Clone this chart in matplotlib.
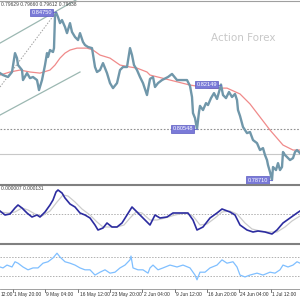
import matplotlib
matplotlib.use("Agg")
import matplotlib.pyplot as plt
from matplotlib.lines import Line2D

# price panel (bar index, close)
price_bar = [0, 3, 8, 12, 15, 17, 18, 22, 23, 27, 30, 33, 37, 39, 42, 45, 47, 48, 50, 53,
             54, 55, 56, 58, 60, 62, 65, 67, 70, 72, 75, 78, 80, 83, 85, 88, 92, 95, 97, 100,
             103, 107, 110, 113, 117, 120, 123, 127, 130, 132, 134, 137, 140, 143, 147, 150, 153, 155, 158, 162,
             168, 172, 177, 183, 187, 190, 192, 193, 195, 197, 199, 200, 203, 206, 208, 211, 214, 217, 219, 221,
             223, 226, 229, 232, 235, 237, 238, 240, 243, 245, 247, 250, 253, 257, 260, 263, 265, 267, 268, 270,
             272, 273, 276, 278, 280, 282, 283, 285, 287, 290, 293, 295, 297, 300]
price_close = [0.8256, 0.8249, 0.8242, 0.8260, 0.8328, 0.8310, 0.8285, 0.8267, 0.8231, 0.8256,
               0.8238, 0.8242, 0.8231, 0.8195, 0.8231, 0.8285, 0.8328, 0.8314, 0.8339, 0.8332,
               0.8346, 0.8462, 0.8475, 0.8458, 0.8436, 0.8447, 0.8422, 0.8400, 0.8436, 0.8404,
               0.8386, 0.8375, 0.8400, 0.8368, 0.8357, 0.8350, 0.8346, 0.8278, 0.8260, 0.8267,
               0.8292, 0.8256, 0.8220, 0.8202, 0.8220, 0.8267, 0.8278, 0.8278, 0.8346, 0.8321,
               0.8285, 0.8267, 0.8242, 0.8220, 0.8177, 0.8235, 0.8242, 0.8206, 0.8220, 0.8231,
               0.8242, 0.8253, 0.8231, 0.8231, 0.8231, 0.8210, 0.8170, 0.8112, 0.8094, 0.80548,
               0.8116, 0.8138, 0.8123, 0.8148, 0.8141, 0.8166, 0.8184, 0.8163, 0.8188, 0.82149,
               0.8177, 0.8166, 0.8188, 0.8170, 0.8181, 0.8159, 0.8123, 0.8102, 0.8062, 0.8051,
               0.8040, 0.8044, 0.8015, 0.8004, 0.7979, 0.7986, 0.7961, 0.7943, 0.7925, 0.7900,
               0.78710, 0.7918, 0.7907, 0.7932, 0.7907, 0.7918, 0.7972, 0.7961, 0.7954, 0.7943,
               0.7950, 0.7972, 0.7979, 0.7968]

ma_bar = [0, 10, 20, 30, 40, 50, 55, 60, 65, 70, 77, 87, 93, 100, 110, 120, 130, 137, 147, 150,
          170, 190, 210, 227, 240, 250, 260, 270, 283, 293, 300]
ma_value = [0.8249, 0.8260, 0.8267, 0.8260, 0.8256, 0.8267, 0.8285, 0.8310, 0.8328, 0.8339,
            0.8346, 0.8346, 0.8339, 0.8321, 0.8310, 0.8285, 0.8278, 0.8274, 0.8260, 0.8249,
            0.8231, 0.8213, 0.8202, 0.8202, 0.8181, 0.8145, 0.8098, 0.8051, 0.7997, 0.7979, 0.7979]

channel_upper = ([0, 90], [0.8364, 0.8548])
channel_lower = ([0, 80], [0.8105, 0.8260])
swing_line = ([0, 56], [0.8206, 0.8475])

level_bars = [56, 221, 197, 272]
level_values = [0.84750, 0.82149, 0.80548, 0.78710]
level_labels = ["0.84750", "0.82149", "0.80548", "0.78710"]
support_level = 0.80548
bid_level = 0.79638

# oscillator 1 (MACD style)
osc_bar = [0, 5, 10, 15, 18, 22, 27, 32, 37, 40, 45, 50, 53, 56, 58, 62, 65, 70, 75, 80,
           85, 90, 95, 98, 103, 107, 112, 117, 122, 127, 132, 137, 143, 148, 150, 155, 160, 167, 173, 180,
           188, 193, 197, 203, 210, 217, 222, 230, 235, 240, 247, 253, 258, 265, 272, 277, 283, 290, 297, 300]
osc_main = [0.0003, -0.0001, 0.0000, 0.0006, 0.0009, 0.0006, 0.0001, -0.0003, -0.0001, -0.0003,
            0.0002, 0.0009, 0.0014, 0.0022, 0.0024, 0.0021, 0.0016, 0.0010, 0.0007, 0.0001,
            -0.0001, -0.0004, -0.0011, -0.0016, -0.0014, -0.0009, -0.0013, -0.0013, -0.0009, -0.0001,
            0.0007, 0.0002, -0.0004, -0.0009, -0.0011, -0.0001, -0.0004, -0.0003, 0.0001, 0.0001,
            0.0001, -0.0006, -0.0016, -0.0013, -0.0004, 0.0001, 0.0005, 0.0002, -0.0001, -0.0011,
            -0.0016, -0.0018, -0.0017, -0.0018, -0.0020, -0.0016, -0.0009, -0.0004, 0.0001, 0.0003]
sig_bar = [0, 8, 15, 22, 28, 35, 42, 50, 57, 63, 68, 75, 82, 90, 97, 103, 110, 117, 124, 130,
           136, 142, 150, 157, 165, 175, 185, 193, 200, 207, 215, 222, 230, 237, 245, 252, 260, 268, 277, 285,
           292, 300]
osc_signal = [0.0002, 0.0001, 0.0002, 0.0006, 0.0004, 0.0000, -0.0002, 0.0003, 0.0012, 0.0019,
              0.0018, 0.0012, 0.0005, -0.0001, -0.0008, -0.0013, -0.0013, -0.0013, -0.0011, -0.0004,
              0.0002, 0.0001, -0.0006, -0.0006, -0.0004, -0.0001, 0.0001, -0.0002, -0.0011, -0.0010,
              -0.0004, 0.0002, 0.0003, 0.0000, -0.0009, -0.0015, -0.0017, -0.0018, -0.0018, -0.0013,
              -0.0007, -0.0002]

# oscillator 2 (RSI style)
rsi_bar = [0, 3, 7, 12, 15, 18, 23, 28, 33, 38, 43, 48, 53, 57, 60, 65, 70, 75, 80, 85,
           90, 95, 100, 105, 110, 115, 120, 125, 130, 131, 133, 138, 143, 148, 150, 153, 158, 163, 170, 177,
           183, 190, 195, 197, 200, 205, 210, 217, 222, 227, 233, 237, 240, 245, 250, 257, 263, 270, 275, 280,
           283, 288, 293, 297, 300]
rsi_value = [49, 47, 53, 49, 60, 57, 49, 43, 47, 47, 57, 60, 68, 78, 70, 60, 57, 53, 47, 43,
             43, 32, 38, 43, 36, 38, 47, 53, 64, 72, 47, 43, 43, 36, 47, 53, 43, 47, 53, 49,
             53, 47, 32, 22, 38, 38, 47, 53, 64, 57, 60, 49, 32, 28, 32, 36, 32, 38, 36, 43,
             53, 49, 53, 60, 57]

tick_pos = [-10, 13, 45, 78, 110, 142, 175, 207, 239, 271]
tick_text = ["12:00", "1 May 20:00", "9 May 04:00", "16 May 12:00", "23 May 20:00",
             "2 Jun 04:00", "9 Jun 12:00", "16 Jun 20:00", "24 Jun 04:00", "1 Jul 12:00"]

W = 300.0
SMALL = dict(family="Liberation Sans", fontsize=3.5)
fig = plt.figure(figsize=(3, 3), dpi=100)
fig.patch.set_facecolor("white")


def panel(top, bottom):
    ax = fig.add_axes([0, 1 - bottom / W, 1, (bottom - top) / W])
    ax.set_xlim(0, 300)
    for s in ax.spines.values():
        s.set_visible(False)
    ax.set_xticks([])
    ax.set_yticks([])
    return ax


# main price panel
ax = panel(0, 184)
ax.set_ylim(0.78568, 0.85192)
ax.axhline(support_level, color="#909090", lw=0.8, ls=(0, (1.5, 1.5)))
ax.axhline(bid_level, color="#c8c8c8", lw=0.8)
ax.plot(*channel_upper, color="#9cb8b2", lw=0.9)
ax.plot(*channel_lower, color="#9cb8b2", lw=0.9)
ax.plot(*swing_line, color="#a0a0a0", lw=0.7, ls=(0, (1.5, 1.5)))
ax.plot(ma_bar, ma_value, color="#f08a8a", lw=0.9)
ax.plot(price_bar, price_close, color="#7097aa", lw=1.7)
for b, v, t in zip(level_bars, level_values, level_labels):
    ax.plot([b - 4, b], [v, v], color="#6a6ad0", lw=0.6)
    ax.text(b - 4, v, t, ha="right", va="center", color="white",
            family="Liberation Sans", fontsize=4.1,
            bbox=dict(boxstyle="square,pad=0.2", fc="#7a7ad8", ec="#5a5ac0", lw=0.5))
ax.text(243, 0.8382, "Action Forex", ha="center", va="center", fontsize=7.5, color="#c8c8c8")
ax.text(1, 0.8503, "0.79629 0.79660 0.79612 0.79638", ha="left", va="center",
        color="#404040", **SMALL)

# oscillator 1
ax1 = panel(186, 242)
ax1.set_ylim(-0.0028, 0.0028)
ax1.axhline(0, color="#b0b0b0", lw=0.7, ls=(0, (1.5, 1.5)))
ax1.plot(sig_bar, osc_signal, color="#cccccc", lw=0.9)
ax1.plot(osc_bar, osc_main, color="#2c2ca0", lw=1.2)
ax1.text(1, 0.0025, "0.000007 0.000131", ha="left", va="center", color="#404040", **SMALL)

# oscillator 2
ax2 = panel(245, 289)
ax2.set_ylim(2.6, 95.3)
ax2.axhline(70, color="#b0b0b0", lw=0.7, ls=(0, (1.5, 1.5)))
ax2.axhline(30, color="#b0b0b0", lw=0.7, ls=(0, (1.5, 1.5)))
ax2.plot(rsi_bar, rsi_value, color="#7fbfff", lw=0.9)
for p, t in zip(tick_pos, tick_text):
    ax2.text(max(p + 1.5, 0.5), -4, t, ha="left", va="top", color="#303030",
             clip_on=False, **SMALL)
    if p > 0:
        ax2.plot([p, p], [2.6, -3.5], color="#606060", lw=0.6, clip_on=False)

# panel separators
for y, lw, c in [(0.5, 0.8, "#a0a0a0"), (184.5, 1.5, "#808080"), (243.5, 1.5, "#808080"),
                 (289, 0.6, "#909090")]:
    fig.add_artist(Line2D([0, 1], [1 - y / W, 1 - y / W], transform=fig.transFigure, color=c, lw=lw))

fig.savefig("out.png", dpi=100)
